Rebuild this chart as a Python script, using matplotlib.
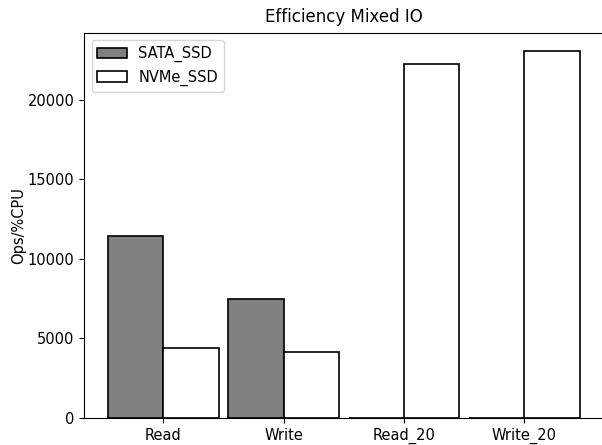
import numpy as np
import matplotlib
matplotlib.use("Agg")
import matplotlib.pyplot as plt

# data
categories = ["Read", "Write", "Read_20", "Write_20"]
sata_ssd = [11470, 7480, 0, 0]
nvme_ssd = [4390, 4160, 22280, 23070]

plt.rcParams["font.size"] = 10.5

x = np.arange(len(categories))
width = 0.46

fig = plt.figure(figsize=(6.02, 4.45), dpi=100)
ax = fig.add_axes([0.140, 0.061, 0.862, 0.865])

ax.bar(x - width / 2, sata_ssd, width, color="grey", edgecolor="black",
       linewidth=1.2, label="SATA_SSD")
ax.bar(x + width / 2, nvme_ssd, width, color="white", edgecolor="black",
       linewidth=1.2, label="NVMe_SSD")

ax.set_xticks(x)
ax.set_xticklabels(categories)
ax.set_ylabel("Ops/%CPU", labelpad=1)
ax.set_title("Efficiency Mixed IO", fontsize=12, pad=8)
ax.legend(loc="upper left")

fig.savefig("out.png", dpi=100)
